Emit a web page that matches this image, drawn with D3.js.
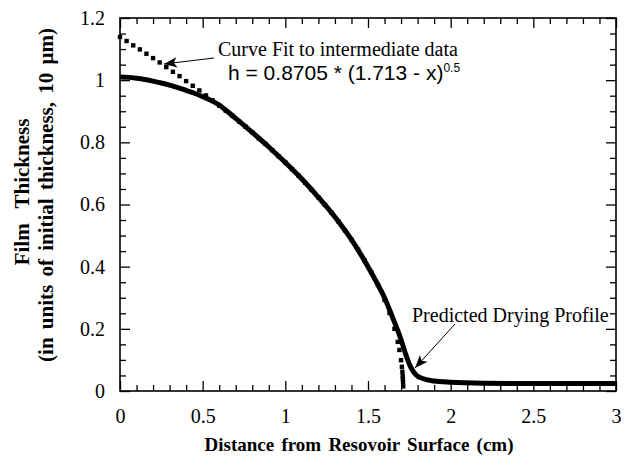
<!DOCTYPE html>
<html>
<head>
<meta charset="utf-8">
<script src="https://cdn.jsdelivr.net/npm/d3@7"></script>
<style>
  body { margin: 0; background: #fff; }
  svg text { fill: #000; }
</style>
</head>
<body>
<svg id="chart" width="629" height="457"></svg>
<script>
// predicted drying profile (solid thick curve)
const profileX = [0, 0.05, 0.1, 0.15, 0.2, 0.25, 0.3, 0.35, 0.4, 0.45, 0.5, 0.55, 0.6, 0.65, 0.7, 0.8, 0.9, 1.0, 1.1, 1.2, 1.3, 1.4, 1.5, 1.55, 1.6, 1.65, 1.7, 1.73, 1.76, 1.79, 1.83, 1.9, 2.0, 2.2, 2.5, 3.0];
const profileY = [1.010, 1.009, 1.006, 1.002, 0.997, 0.991, 0.984, 0.976, 0.967, 0.958, 0.947, 0.935, 0.920, 0.899, 0.877, 0.832, 0.785, 0.735, 0.682, 0.623, 0.560, 0.487, 0.400, 0.352, 0.300, 0.235, 0.165, 0.115, 0.075, 0.052, 0.040, 0.032, 0.028, 0.025, 0.024, 0.024];

// curve fit to intermediate data (square markers)
const fitX = [0, 0.04, 0.08, 0.12, 0.16, 0.2, 0.24, 0.28, 0.32, 0.36, 0.4, 0.44, 0.48, 0.52, 0.56, 0.6, 0.64, 0.68, 0.72, 0.76, 0.8, 0.84, 0.88, 0.92, 0.96, 1.0, 1.04, 1.08, 1.12, 1.16, 1.2, 1.24, 1.28, 1.32, 1.36, 1.4, 1.44, 1.48, 1.52, 1.56, 1.6, 1.63, 1.66, 1.68, 1.69, 1.7, 1.705, 1.708, 1.71, 1.711, 1.712, 1.713];
const fitY = [1.139, 1.126, 1.112, 1.099, 1.085, 1.071, 1.057, 1.042, 1.027, 1.013, 0.997, 0.982, 0.967, 0.951, 0.935, 0.918, 0.902, 0.885, 0.867, 0.850, 0.832, 0.813, 0.795, 0.775, 0.755, 0.735, 0.714, 0.693, 0.670, 0.647, 0.623, 0.599, 0.573, 0.546, 0.517, 0.487, 0.455, 0.420, 0.382, 0.341, 0.293, 0.251, 0.200, 0.158, 0.132, 0.099, 0.078, 0.062, 0.048, 0.039, 0.028, 0.015];

const xMajor = [0, 0.5, 1, 1.5, 2, 2.5, 3];
const xMinor = d3.range(0, 30).map(i => i / 10).filter(v => Math.round(v * 10) % 5 !== 0);
const yMajor = [0, 0.2, 0.4, 0.6, 0.8, 1, 1.2];
const yMinor = d3.range(0, 24).map(i => i * 0.05).filter(v => Math.round(v * 100) % 20 !== 0);

const svg = d3.select("svg#chart");
const padding = { top: 18, right: 13, bottom: 66, left: 120 };
const chartArea = {
  width: +svg.attr("width") - padding.left - padding.right,
  height: +svg.attr("height") - padding.top - padding.bottom
};

const xScale = d3.scaleLinear().domain([0, 3]).range([0, chartArea.width]);
const yScale = d3.scaleLinear().domain([0, 1.2]).range([chartArea.height, 0]);

const g = svg.append("g").attr("transform", `translate(${padding.left}, ${padding.top})`);

const serif = "Liberation Serif";

//axes: major ticks with labels, minor ticks without, all pointing inward
const styleAxis = sel => {
  sel.attr("font-family", serif).attr("font-size", 20);
  sel.select(".domain").remove();
  sel.selectAll("line").attr("stroke", "#000").attr("stroke-width", 1.3);
};

g.append("g").attr("transform", `translate(0, ${chartArea.height})`)
  .call(d3.axisBottom(xScale).tickValues(xMajor).tickSizeInner(-10).tickPadding(18).tickFormat(d3.format("")))
  .call(styleAxis);
g.append("g").attr("transform", `translate(0, ${chartArea.height})`)
  .call(d3.axisBottom(xScale).tickValues(xMinor).tickSize(-6).tickFormat(""))
  .call(styleAxis);
g.append("g")
  .call(d3.axisTop(xScale).tickValues(xMajor).tickSize(-10).tickFormat(""))
  .call(styleAxis);
g.append("g")
  .call(d3.axisTop(xScale).tickValues(xMinor).tickSize(-6).tickFormat(""))
  .call(styleAxis);

g.append("g")
  .call(d3.axisLeft(yScale).tickValues(yMajor).tickSizeInner(-10).tickPadding(15).tickFormat(d3.format("")))
  .call(styleAxis);
g.append("g")
  .call(d3.axisLeft(yScale).tickValues(yMinor).tickSize(-6).tickFormat(""))
  .call(styleAxis);
g.append("g").attr("transform", `translate(${chartArea.width}, 0)`)
  .call(d3.axisRight(yScale).tickValues(yMajor).tickSize(-10).tickFormat(""))
  .call(styleAxis);
g.append("g").attr("transform", `translate(${chartArea.width}, 0)`)
  .call(d3.axisRight(yScale).tickValues(yMinor).tickSize(-6).tickFormat(""))
  .call(styleAxis);

//frame
g.append("rect")
  .attr("width", chartArea.width)
  .attr("height", chartArea.height)
  .attr("fill", "none")
  .attr("stroke", "#000")
  .attr("stroke-width", 1.6);

//curve fit markers
g.append("g").selectAll("rect")
  .data(fitX)
  .join("rect")
  .attr("x", (d, i) => xScale(d) - 2.2)
  .attr("y", (d, i) => yScale(fitY[i]) - 2.2)
  .attr("width", 4.4)
  .attr("height", 4.4)
  .attr("fill", "#000");

//predicted profile
const lineGenerator = d3.line()
  .x((d, i) => xScale(profileX[i]))
  .y(d => yScale(d))
  .curve(d3.curveMonotoneX);

g.append("path")
  .attr("fill", "none")
  .attr("stroke", "#000")
  .attr("stroke-width", 5)
  .attr("stroke-linejoin", "round")
  .attr("d", lineGenerator(profileY));

//annotations
const drawArrow = (x1, y1, x2, y2) => {
  svg.append("line")
    .attr("x1", x1).attr("y1", y1).attr("x2", x2).attr("y2", y2)
    .attr("stroke", "#000").attr("stroke-width", 1);
  const a = Math.atan2(y2 - y1, x2 - x1);
  const len = 14, w = 0.38;
  const p = [
    [x2, y2],
    [x2 - len * Math.cos(a - w), y2 - len * Math.sin(a - w)],
    [x2 - len * 0.7 * Math.cos(a), y2 - len * 0.7 * Math.sin(a)],
    [x2 - len * Math.cos(a + w), y2 - len * Math.sin(a + w)]
  ];
  svg.append("path").attr("d", "M" + p.join("L") + "Z").attr("fill", "#000");
};

svg.append("text")
  .attr("x", 218).attr("y", 56)
  .attr("font-family", serif).attr("font-size", 20)
  .text("Curve Fit to intermediate data");

const eq = svg.append("text")
  .attr("x", 228).attr("y", 80)
  .attr("font-family", "Liberation Sans").attr("font-size", 21);
eq.append("tspan").text("h = 0.8705 * (1.713 - x)");
eq.append("tspan").attr("dy", -8).attr("font-size", 12).text("0.5");

drawArrow(214, 58, 164, 64);

svg.append("text")
  .attr("x", 412).attr("y", 322)
  .attr("font-family", serif).attr("font-size", 20)
  .text("Predicted Drying Profile");

drawArrow(455, 324, 415, 368);

//axis titles
svg.append("text")
  .attr("x", 359).attr("y", 451)
  .attr("text-anchor", "middle")
  .attr("font-family", serif).attr("font-size", 19).attr("font-weight", "bold")
  .attr("word-spacing", 2.5)
  .text("Distance from Resovoir Surface (cm)");

const yTitle = svg.append("g")
  .attr("transform", "translate(0, 195) rotate(-90)")
  .attr("font-family", serif).attr("font-size", 21).attr("font-weight", "bold");
yTitle.append("text")
  .attr("x", 3).attr("y", 29)
  .attr("text-anchor", "middle")
  .attr("word-spacing", 10)
  .text("Film Thickness");
yTitle.append("text")
  .attr("x", 0).attr("y", 53)
  .attr("text-anchor", "middle")
  .attr("word-spacing", 3)
  .text("(in units of initial thickness, 10 μm)");
</script>
</body>
</html>
